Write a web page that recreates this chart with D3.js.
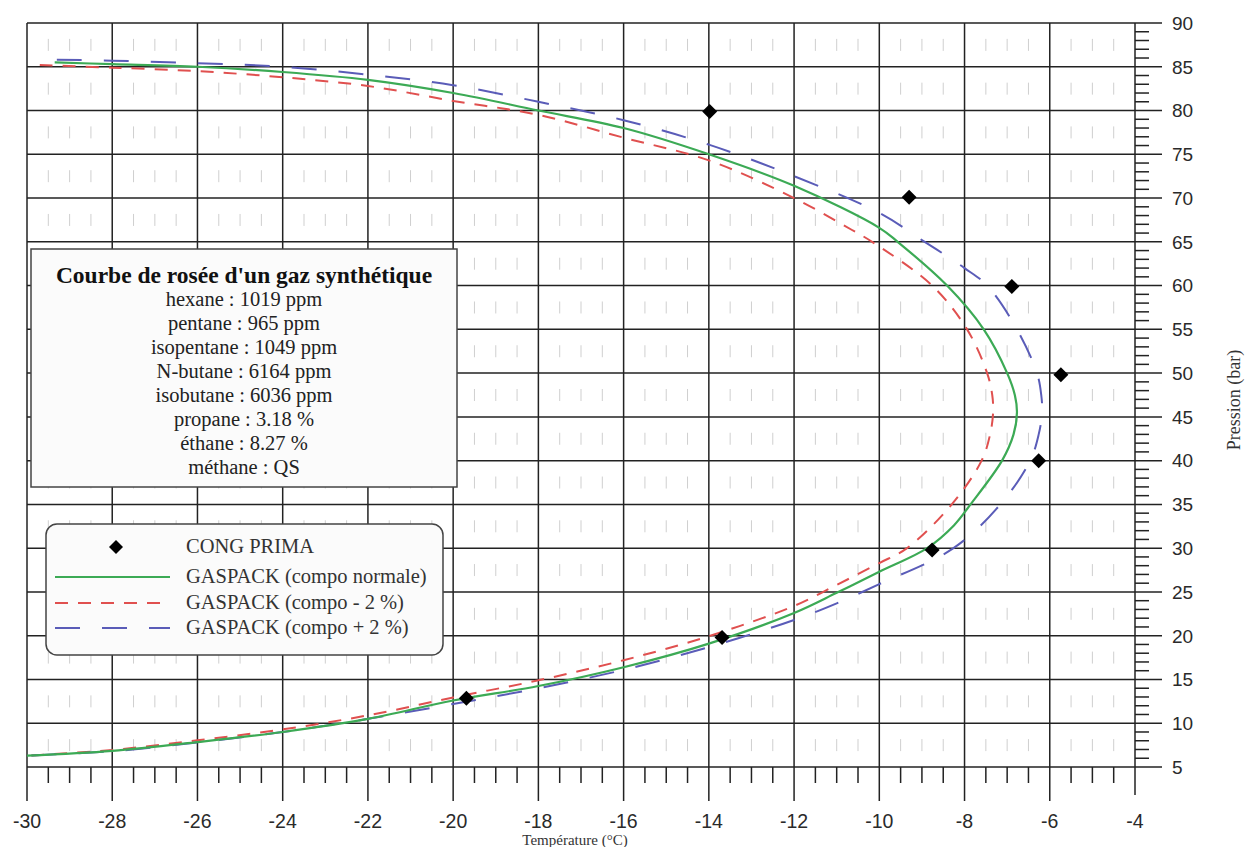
<!DOCTYPE html>
<html>
<head>
<meta charset="utf-8">
<script src="https://cdn.jsdelivr.net/npm/d3@7"></script>
<style>
  body { margin: 0; background: #fff; }
  svg { display: block; }
</style>
</head>
<body>
<svg id="chart"></svg>
<script>
// tick labels
const xTicks = [-30, -28, -26, -24, -22, -20, -18, -16, -14, -12, -10, -8, -6, -4];
const yTicks = [5, 10, 15, 20, 25, 30, 35, 40, 45, 50, 55, 60, 65, 70, 75, 80, 85, 90];

// CONG PRIMA measured points [T °C, P bar]
const congPrima = [[-13.98, 79.9], [-9.3, 70.1], [-6.89, 59.9], [-5.74, 49.8],
                   [-6.26, 40.0], [-8.76, 29.8], [-13.69, 19.8], [-19.69, 12.85]];

// GASPACK curves, read along the curve from the top-left end
const gaspackNormal = [[-29.35, 85.5], [-28, 85.3], [-26, 85.0], [-24, 84.4], [-22, 83.5], [-20, 82.0],
  [-18, 80.0], [-16, 78.0], [-14, 75.0], [-12, 71.4], [-10, 66.6], [-9.57, 65], [-8.41, 60],
  [-7.55, 55], [-7.0, 50], [-6.82, 47.5], [-6.77, 45.5], [-6.85, 43], [-7.12, 40], [-7.86, 35],
  [-8.25, 32.6], [-8.88, 30], [-10, 27.3], [-11, 24.9], [-12, 22.6], [-14, 19.1], [-16, 16.4],
  [-18, 14.25], [-20, 12.6], [-22, 10.5], [-24, 9.0], [-26, 7.85], [-28, 6.85], [-30, 6.3]];

const gaspackMinus2 = [[-29.7, 85.2], [-28, 84.9], [-26, 84.5], [-24, 83.8], [-22, 82.8], [-20, 81.1],
  [-18, 79.5], [-16, 76.9], [-14, 74.3], [-12, 70.0], [-10.64, 66.35], [-10.17, 65], [-8.76, 60],
  [-7.94, 55], [-7.47, 50], [-7.35, 47.5], [-7.33, 45.5], [-7.4, 43], [-7.6, 40], [-8.3, 35],
  [-9.35, 30], [-10, 28.3], [-11, 25.8], [-12, 23.4], [-14, 19.95], [-16, 17.2], [-18, 14.9],
  [-20, 12.95], [-22, 10.9], [-24, 9.3], [-26, 8.05], [-28, 6.95], [-30, 6.3]];

const gaspackPlus2 = [[-29.3, 85.8], [-28, 85.7], [-26, 85.4], [-24, 85.0], [-22, 84.1], [-20, 82.9],
  [-18, 81.0], [-16, 78.9], [-14, 76.1], [-12, 72.5], [-10, 68.3], [-9, 65.2], [-8, 62.0],
  [-7.47, 60], [-6.77, 55], [-6.3, 50], [-6.2, 47.5], [-6.18, 45.5], [-6.26, 43], [-6.46, 40],
  [-7.16, 35], [-8.26, 30], [-10, 25.9], [-11, 23.7], [-12, 21.8], [-14, 18.7], [-16, 16.1],
  [-18, 14.0], [-20, 12.2], [-22, 10.5], [-24, 9.0], [-26, 7.8], [-28, 6.8], [-30, 6.3]];

const infoTitle = "Courbe de rosée d'un gaz synthétique";
const infoLines = ["hexane : 1019 ppm", "pentane : 965 ppm", "isopentane : 1049 ppm",
  "N-butane : 6164 ppm", "isobutane : 6036 ppm", "propane : 3.18 %", "éthane : 8.27 %", "méthane : QS"];

const legendLabels = ["CONG PRIMA", "GASPACK (compo normale)", "GASPACK (compo - 2 %)", "GASPACK (compo + 2 %)"];

const width = 1247, height = 847;
const svg = d3.select('#chart').attr('width', width).attr('height', height);

const x = d3.scaleLinear().domain([-30, -4]).range([27, 1135]);
const y = d3.scaleLinear().domain([5, 90]).range([767, 23]);

const gridColor = '#222';
const serif = '"Liberation Serif", "Times New Roman", serif';
const sans = '"Liberation Sans", Arial, sans-serif';

// faint minor vertical dashes, one per 5-bar band
const minorX = d3.range(-30, -4, 0.5).filter(t => !xTicks.includes(t));
const bands = yTicks.slice(0, -1);
const faint = svg.append('g').attr('stroke', '#cfcfcf').attr('stroke-width', 1);
minorX.forEach(t => {
    bands.forEach(p => {
        const yc = y(p + 2.5);
        faint.append('line')
            .attr('x1', x(t)).attr('x2', x(t))
            .attr('y1', yc - 6).attr('y2', yc + 6);
    });
});

// major grid
const grid = svg.append('g').attr('stroke', gridColor).attr('stroke-width', 1.5);
grid.selectAll('line.v')
    .data(xTicks.slice(0, -1))
    .join('line')
    .attr('class', 'v')
    .attr('x1', d => x(d)).attr('x2', d => x(d))
    .attr('y1', y(90)).attr('y2', 801);
grid.selectAll('line.h')
    .data(yTicks)
    .join('line')
    .attr('class', 'h')
    .attr('x1', x(-30)).attr('x2', x(-4) + 27)
    .attr('y1', d => y(d)).attr('y2', d => y(d));

// right axis line and minor ticks
grid.append('line')
    .attr('x1', x(-4)).attr('x2', x(-4))
    .attr('y1', y(90)).attr('y2', 795);
const minorY = d3.range(5, 90, 1).filter(p => !yTicks.includes(p));
grid.selectAll('line.my')
    .data(minorY)
    .join('line')
    .attr('class', 'my')
    .attr('x1', x(-4)).attr('x2', x(-4) + 14)
    .attr('y1', d => y(d)).attr('y2', d => y(d));
grid.selectAll('line.mx')
    .data(minorX)
    .join('line')
    .attr('class', 'mx')
    .attr('x1', d => x(d)).attr('x2', d => x(d))
    .attr('y1', y(5)).attr('y2', y(5) + 16);

// tick labels
svg.append('g')
    .selectAll('text')
    .data(xTicks)
    .join('text')
    .attr('x', d => x(d))
    .attr('y', 828)
    .attr('text-anchor', 'middle')
    .attr('font-family', sans)
    .attr('font-size', 19.5)
    .attr('fill', '#2a2a2a')
    .text(d => d);
svg.append('g')
    .selectAll('text')
    .data(yTicks)
    .join('text')
    .attr('x', 1172)
    .attr('y', d => y(d))
    .attr('dy', '0.36em')
    .attr('font-family', sans)
    .attr('font-size', 19)
    .attr('fill', '#2a2a2a')
    .text(d => d);

// axis titles
svg.append('text')
    .attr('x', 575).attr('y', 844.5)
    .attr('text-anchor', 'middle')
    .attr('font-family', serif)
    .attr('font-size', 15)
    .attr('fill', '#333')
    .text('Température (°C)');
svg.append('text')
    .attr('transform', 'translate(1240,400) rotate(-90)')
    .attr('text-anchor', 'middle')
    .attr('font-family', serif)
    .attr('font-size', 18)
    .attr('fill', '#333')
    .text('Pression (bar)');

// curves
const line = d3.line()
    .x(d => x(d[0]))
    .y(d => y(d[1]))
    .curve(d3.curveCatmullRom.alpha(0.5));

const normal = {data: gaspackNormal, color: '#3caa55', dash: null, width: 2.2};
const minus2 = {data: gaspackMinus2, color: '#e0504f', dash: '13,10', width: 2};
const plus2 = {data: gaspackPlus2, color: '#5a5cb8', dash: '25,22', width: 2};

svg.append('g')
    .attr('fill', 'none')
    .selectAll('path')
    .data([minus2, plus2, normal])
    .join('path')
    .attr('d', d => line(d.data))
    .attr('stroke', d => d.color)
    .attr('stroke-width', d => d.width)
    .attr('stroke-dasharray', d => d.dash);

// CONG PRIMA diamonds
const diamondPath = r => `M0,${-r}L${r},0L0,${r}L${-r},0Z`;
svg.append('g')
    .selectAll('path')
    .data(congPrima)
    .join('path')
    .attr('transform', d => `translate(${x(d[0])},${y(d[1])})`)
    .attr('d', diamondPath(7.5))
    .attr('fill', '#000');

// info box
const info = svg.append('g');
info.append('rect')
    .attr('x', 31).attr('y', 249)
    .attr('width', 426).attr('height', 238)
    .attr('fill', '#fbfbfb')
    .attr('stroke', '#444')
    .attr('stroke-width', 1.5);
info.append('text')
    .attr('x', 244).attr('y', 283)
    .attr('text-anchor', 'middle')
    .attr('font-family', serif)
    .attr('font-weight', 'bold')
    .attr('font-size', 23.5)
    .attr('fill', '#111')
    .text(infoTitle);
info.selectAll('text.line')
    .data(infoLines)
    .join('text')
    .attr('class', 'line')
    .attr('x', 244)
    .attr('y', (d, i) => 306 + i * 24)
    .attr('text-anchor', 'middle')
    .attr('font-family', serif)
    .attr('font-size', 20.5)
    .attr('fill', '#222')
    .text(d => d);

// legend
const legend = svg.append('g');
legend.append('rect')
    .attr('x', 46).attr('y', 524)
    .attr('width', 397).attr('height', 131)
    .attr('rx', 11)
    .attr('fill', '#fbfbfb')
    .attr('stroke', '#444')
    .attr('stroke-width', 1.5);
const rowY = [547, 577, 603, 628];
legend.append('path')
    .attr('transform', `translate(116,${rowY[0]})`)
    .attr('d', diamondPath(7))
    .attr('fill', '#000');
[normal, minus2, plus2].forEach((s, i) => {
    legend.append('line')
        .attr('x1', 55).attr('x2', 170)
        .attr('y1', rowY[i + 1]).attr('y2', rowY[i + 1])
        .attr('stroke', s.color)
        .attr('stroke-width', s.width)
        .attr('stroke-dasharray', s.dash);
});
legend.selectAll('text')
    .data(legendLabels)
    .join('text')
    .attr('x', 186)
    .attr('y', (d, i) => rowY[i] + 6)
    .attr('font-family', serif)
    .attr('font-size', 20.5)
    .attr('fill', '#333')
    .text(d => d);
</script>
</body>
</html>
